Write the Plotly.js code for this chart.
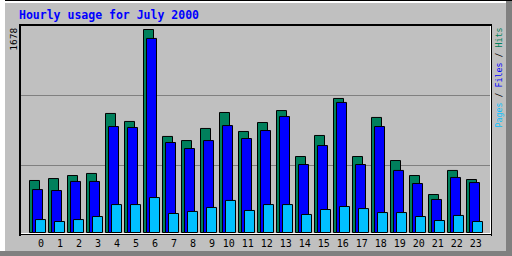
<!DOCTYPE html>
<html>
<head>
<meta charset="utf-8">
<script src="https://cdn.plot.ly/plotly-3.0.1.min.js"></script>
<style>
html,body{margin:0;padding:0;background:#C0C0C0;}
#chart{width:512px;height:256px;}
</style>
</head>
<body>
<div id="chart"></div>
<script>
// ---- data ----
var hours = [0,1,2,3,4,5,6,7,8,9,10,11,12,13,14,15,16,17,18,19,20,21,22,23];
var hourLabels = ["0","1","2","3","4","5","6","7","8","9","10","11","12","13","14","15","16","17","18","19","20","21","22","23"];
var hits  = [430,446,471,488,984,918,1678,794,760,860,992,835,909,1008,628,802,1108,628,951,595,471,314,513,438];
var files = [355,347,422,422,876,868,1604,744,694,760,884,777,843,959,562,719,1075,562,876,513,405,273,455,413];
var pages = [107,91,107,132,231,231,289,157,174,207,265,182,231,231,149,190,215,198,165,165,132,99,141,91];
var seriesNames = ["Pages","Files","Hits"];
var seriesColors = {Pages:"#00C0FF", Files:"#0000FF", Hits:"#00805C"};
var titleText = "Hourly usage for July 2000";

// ---- geometry helpers (pixel -> paper) ----
var W = 512, H = 256;
var mL = 21, mR = 22, mT = 26, mB = 23;
var plotW = W - mL - mR, plotH = H - mT - mB;
function px(x){ return (x - mL) / plotW; }
function py(y){ return (H - mB - y) / plotH; }
function rect(x0,y0,x1,y1,color,layer){
  return {type:"rect", xref:"paper", yref:"paper", x0:px(x0), x1:px(x1), y0:py(y1), y1:py(y0),
          fillcolor:color, line:{width:0}, layer:layer||"above"};
}

var step = 19;            // px per hour
var base = 41;            // px of hour 0 label centre
var xr = [(mL - base)/step, (W - mR - base)/step];
var barW = 10/step;
var maxV = Math.max.apply(null, hits);
var k = maxV / 203;       // value per px
var yr = [-0.5*k, (232.5 - mT)*k];

var tickvals = hours.map(function(h,i){ return hourLabels[i].length > 1 ? h - 0.12 : h; });

var lineStyle = {color:"#000000", width:1};
var traces = [
  {type:"bar", x:hours, y:hits,  name:"Hits",  offset:-11.5/step, width:barW,
   marker:{color:seriesColors.Hits, line:lineStyle}},
  {type:"bar", x:hours, y:files, name:"Files", offset:-8.5/step, width:barW,
   marker:{color:seriesColors.Files, line:lineStyle}},
  {type:"bar", x:hours, y:pages, name:"Pages", offset:-5.5/step, width:barW,
   marker:{color:seriesColors.Pages, line:lineStyle}}
];

var shapes = [
  // grid lines
  {type:"line", xref:"paper", yref:"paper", x0:0, x1:1, y0:py(95.5), y1:py(95.5), line:{color:"#808080", width:1}, layer:"below"},
  {type:"line", xref:"paper", yref:"paper", x0:0, x1:1, y0:py(165.5), y1:py(165.5), line:{color:"#808080", width:1}, layer:"below"},
  // plot frame
  rect(19,24,492,26,"#000000"),
  rect(19,24,21,236,"#000000"),
  rect(491,24,492,236,"#000000"),
  rect(19,234,492,235,"#000000"),
  rect(490,26,491,234,"#FFFFFF"),
  rect(21,233,491,234,"#FFFFFF"),
  // outer 3D border
  rect(0,251,512,256,"#808080"),
  rect(506,0,512,256,"#808080"),
  rect(0,0,512,1,"#000000"),
  rect(0,1,506,3,"#FFFFFF"),
  rect(0,0,5,251,"#FFFFFF")
];

var legendHtml = seriesNames.map(function(n){
  return '<span style="color:' + seriesColors[n] + '">' + n + '</span>';
}).join(' / ');

var annotations = [
  {xref:"paper", yref:"paper", x:px(13.7), y:py(39), text:String(maxV), textangle:-90,
   showarrow:false, xanchor:"center", yanchor:"middle",
   font:{family:"DejaVu Sans Mono", size:9.5, color:"#000000"}},
  {xref:"paper", yref:"paper", x:px(498.5), y:py(78), text:legendHtml, textangle:-90,
   showarrow:false, xanchor:"center", yanchor:"middle",
   font:{family:"DejaVu Sans Mono", size:8.3, color:"#000000"}}
];

var layout = {
  width:W, height:H,
  margin:{l:mL, r:mR, t:mT, b:mB, pad:0},
  paper_bgcolor:"#C0C0C0", plot_bgcolor:"#C0C0C0",
  barmode:"overlay", showlegend:false, hovermode:false,
  title:{text:titleText, xref:"container", yref:"container", x:19/W, xanchor:"left",
         y:1 - 14.5/H, yanchor:"middle",
         font:{family:"DejaVu Sans Mono", size:11.5, weight:"bold", color:"#0000FF"}},
  xaxis:{range:xr, tickmode:"array", tickvals:tickvals, ticktext:hourLabels,
         showgrid:false, zeroline:false, showline:false, ticks:"", ticklabelstandoff:3,
         tickfont:{family:"DejaVu Sans Mono", size:10, color:"#000000"}, fixedrange:true},
  yaxis:{range:yr, showticklabels:false, showgrid:false, zeroline:false, showline:false,
         ticks:"", fixedrange:true},
  shapes:shapes, annotations:annotations
};

Plotly.newPlot("chart", traces, layout, {staticPlot:true, displayModeBar:false});
</script>
</body>
</html>
